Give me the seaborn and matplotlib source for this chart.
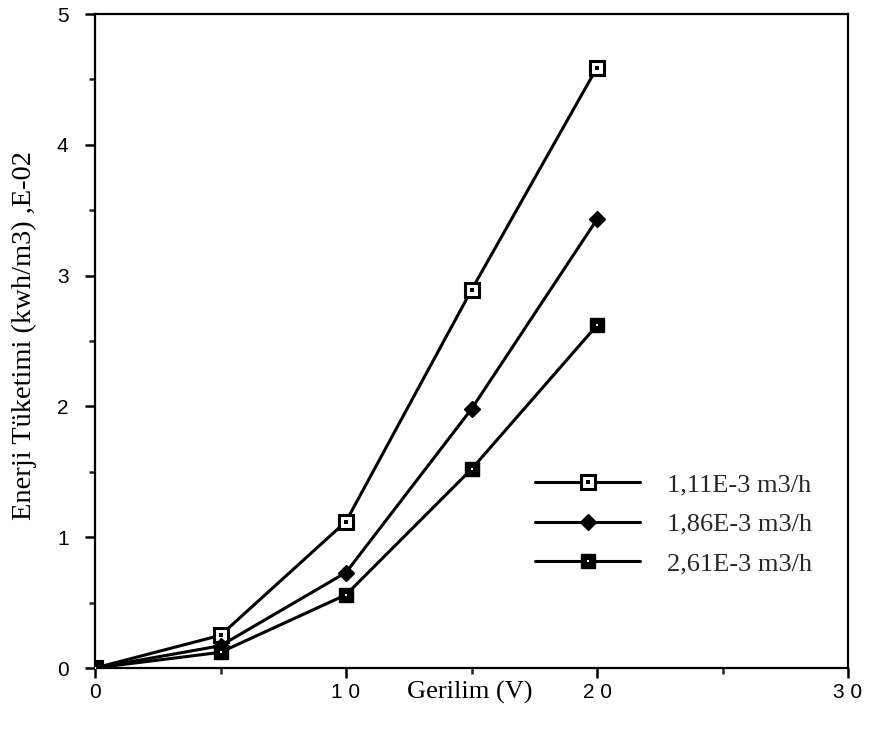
import matplotlib
matplotlib.use("Agg")
import matplotlib.pyplot as plt
import seaborn as sns
import pandas as pd
from matplotlib.ticker import MultipleLocator
from matplotlib.legend_handler import HandlerTuple
from matplotlib.lines import Line2D

voltage = [0, 5, 10, 15, 20]
s_111 = [0.0, 0.25, 1.12, 2.89, 4.59]
s_186 = [0.0, 0.17, 0.73, 1.98, 3.43]
s_261 = [0.0, 0.12, 0.56, 1.52, 2.62]
labels = ["1,11E-3 m3/h", "1,86E-3 m3/h", "2,61E-3 m3/h"]
xticks = [0, 10, 20, 30]
xticklabels = ["0", "1 0", "2 0", "3 0"]
yticks = [0, 1, 2, 3, 4, 5]

sns.set_theme(style="white")
plt.rcParams["font.family"] = ["Liberation Sans", "DejaVu Sans"]

df = pd.DataFrame({
    "V": voltage * 3,
    "E": s_111 + s_186 + s_261,
    "series": [labels[0]] * 5 + [labels[1]] * 5 + [labels[2]] * 5,
})

fig = plt.figure(figsize=(8.71, 7.33), dpi=100)
ax = fig.add_axes([95 / 871, 1 - 668 / 733, (848 - 95) / 871, (668 - 14) / 733])

styles = {
    labels[0]: dict(marker="s", mfc="white", mec="black", ms=9.5, mew=2.2),
    labels[1]: dict(marker="D", mfc="black", mec="black", ms=8.5, mew=1),
    labels[2]: dict(marker="s", mfc="black", mec="black", ms=9.5, mew=1),
}
dots = {labels[0]: ("black", 2.4), labels[1]: None, labels[2]: ("white", 1.8)}

handles = []
for lab in labels:
    sub = df[df["series"] == lab]
    sns.lineplot(data=sub, x="V", y="E", ax=ax, color="black", linewidth=2.2,
                 legend=False)
    line = ax.lines[-1]
    st = styles[lab]
    line.set_marker(st["marker"])
    line.set_markerfacecolor(st["mfc"])
    line.set_markeredgecolor(st["mec"])
    line.set_markersize(st["ms"])
    line.set_markeredgewidth(st["mew"])
    h = [line]
    if dots[lab]:
        dc, ds = dots[lab]
        sns.lineplot(data=sub, x="V", y="E", ax=ax, color=dc, legend=False)
        d = ax.lines[-1]
        d.set_linestyle("none")
        d.set_marker("s")
        d.set_markerfacecolor(dc)
        d.set_markeredgecolor(dc)
        d.set_markeredgewidth(0)
        d.set_markersize(ds)
        d.set_zorder(5)
        h.append(Line2D([], [], linestyle="none", marker="s", markersize=ds,
                        markerfacecolor=dc, markeredgecolor=dc, markeredgewidth=0))
    handles.append(tuple(h))

ax.set_xlim(0, 30)
ax.set_ylim(0, 5)
ax.set_xticks(xticks)
ax.set_xticklabels(xticklabels)
ax.set_yticks(yticks)
ax.xaxis.set_minor_locator(MultipleLocator(5))
ax.yaxis.set_minor_locator(MultipleLocator(0.5))
ax.tick_params(which="major", direction="out", length=7, width=1.8, labelsize=15,
               bottom=True, left=True, colors="black")
ax.tick_params(axis="x", which="major", pad=4)
ax.tick_params(axis="y", which="major", pad=12)
ax.tick_params(which="minor", direction="out", length=4, width=1.8, bottom=True, left=True)
for sp in ax.spines.values():
    sp.set_visible(True)
    sp.set_color("black")
    sp.set_linewidth(1.6)

ax.set_xlabel("Gerilim (V)", fontsize=19, family=["Liberation Serif"], color="black")
ax.xaxis.set_label_coords(0.498, -0.02)
ax.set_ylabel("Enerji Tüketimi (kwh/m3) ,E-02", fontsize=20.5, family=["Liberation Serif"], color="black")
ax.yaxis.set_label_coords(-0.077, 0.509)

leg = ax.legend(handles, labels, handler_map={tuple: HandlerTuple(ndivide=1, pad=0)},
                loc="center left", bbox_to_anchor=(0.584, 0.22), frameon=False,
                prop={"family": "Liberation Serif", "size": 19}, handlelength=4.0,
                handletextpad=1.0, labelspacing=0.6, borderpad=0, borderaxespad=0)

fig.savefig("out.png", dpi=100)
